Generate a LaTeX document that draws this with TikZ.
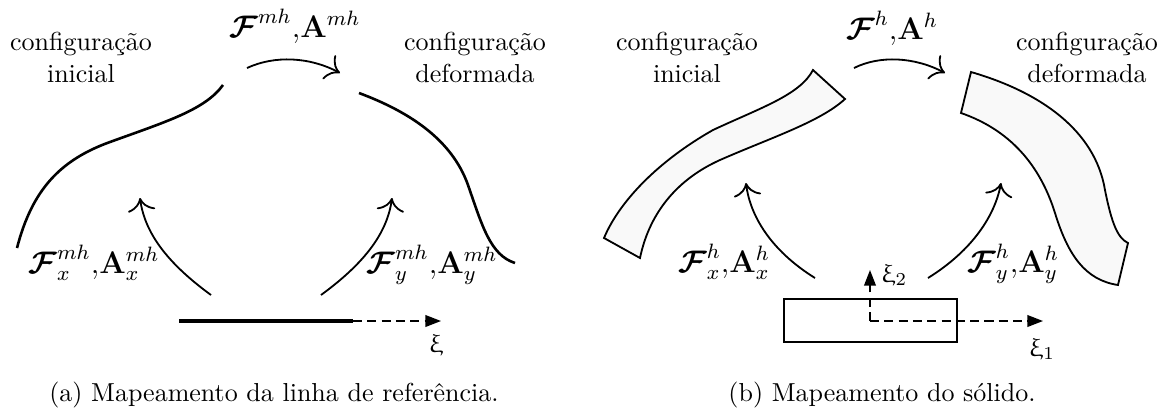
\documentclass[tikz,border=0pt]{standalone}
\usepackage{amsmath}
\usepackage{upgreek}
\usetikzlibrary{arrows.meta,positioning}
\newcommand{\mapF}{\boldsymbol{\mathcal{F}}}
\newcommand{\mapA}{\mathbf{A}}
\newcommand{\mapsep}{{\mathbf{,}}}

\begin{document}
\begin{tikzpicture}[
  x=0.3846pt, y=-0.3846pt,
  conf/.style={align=center, inner sep=0pt, anchor=north},
  maplabel/.style={inner sep=0pt, anchor=base, font=\fontsize{11.5}{13}\selectfont},
  refcurve/.style={line width=1pt},
  body/.style={draw, line width=0.7pt, fill=black!2.5},
  flow/.style={-{To[scale=1.6]}, line width=0.7pt},
  axisarrow/.style={-{Triangle[length=6pt,width=4.5pt]}, dash pattern=on 3.5pt off 2pt, line width=0.6pt},
  subcap/.style={anchor=base, inner sep=0pt}
]
\useasboundingbox (0,0) rectangle (1169,410);

% (a) linha de referencia
\node[conf] (iniA) at (81,32) {configuração\\inicial};
\node[conf] (defA) at (475,32) {configuração\\deformada};
\node[maplabel] (mapA) at (295,37) {$\mapF^{mh}\mapsep\mapA^{mh}$};
\node[maplabel] (mapAx) at (94,273) {$\mapF^{mh}_x\mapsep\mapA^{mh}_x$};
\node[maplabel] (mapAy) at (432,273) {$\mapF^{mh}_y\mapsep\mapA^{mh}_y$};
\node (xiA) at (436,345) {$\upxi$};
\node[subcap] (capA) at (274,401) {(a) Mapeamento da linha de referência.};

\coordinate (topA0) at (247,68);
\coordinate (topA1) at (340,73);
\coordinate (upAx0) at (211,295);
\coordinate (upAx1) at (140,198);
\coordinate (upAy0) at (321,295);
\coordinate (upAy1) at (392,198);
\coordinate (refA0) at (179,321);
\coordinate (refA1) at (353,321);
\coordinate (refA2) at (441,321);

\draw[refcurve] (17,248) .. controls (32,190) and (60,160) .. (110,142)
  .. controls (165,122) and (205,110) .. (223,85);
\draw[refcurve] (359,93) .. controls (410,112) and (452,140) .. (468,185)
  .. controls (482,225) and (490,255) .. (515,263);

\draw[flow] (topA0) .. controls (275,55) and (310,57) .. (topA1);
\draw[flow] (upAx0) .. controls (170,265) and (145,235) .. (upAx1);
\draw[flow] (upAy0) .. controls (362,265) and (387,235) .. (upAy1);
\draw[line width=1.2pt] (refA0) -- (refA1);
\draw[axisarrow] (refA1) -- (refA2);

% (b) solido
\node[conf] (iniB) at (687,32) {configuração\\inicial};
\node[conf] (defB) at (1087,32) {configuração\\deformada};
\node[maplabel] (mapB) at (892,39) {$\mapF^{h}\mapsep\mapA^{h}$};
\node[maplabel] (mapBx) at (724,272) {$\mapF^{h}_x\mapsep\mapA^{h}_x$};
\node[maplabel] (mapBy) at (1013,272) {$\mapF^{h}_y\mapsep\mapA^{h}_y$};
\node[anchor=west, inner sep=1pt] (xiB2) at (878,275) {$\upxi_2$};
\node (xiB1) at (1042,349) {$\upxi_1$};
\node[subcap] (capB) at (882,401) {(b) Mapeamento do sólido.};

\coordinate (topB0) at (854,68);
\coordinate (topB1) at (945,73);
\coordinate (upBx0) at (815,278);
\coordinate (upBx1) at (746,183);
\coordinate (upBy0) at (928,278);
\coordinate (upBy1) at (1001,183);
\coordinate (orgB) at (870,321);
\coordinate (tipB1) at (1043,321);
\coordinate (tipB2) at (870,270);

\draw[body] (604,238) .. controls (620,200) and (660,160) .. (713,130)
  .. controls (760,108) and (800,95) .. (813,70) -- (845,99)
  .. controls (820,122) and (770,138) .. (720,160)
  .. controls (680,178) and (650,210) .. (640,258) -- cycle;
\draw[body] (971,72) -- (961,113)
  .. controls (1010,130) and (1040,165) .. (1055,213)
  .. controls (1068,255) and (1085,280) .. (1118,285) -- (1128,243)
  .. controls (1118,238) and (1112,225) .. (1105,190)
  .. controls (1095,130) and (1040,92) .. cycle;
\draw[line width=0.8pt] (784,299) rectangle (957,342);

\draw[flow] (topB0) .. controls (880,55) and (915,57) .. (topB1);
\draw[flow] (upBx0) .. controls (770,250) and (750,215) .. (upBx1);
\draw[flow] (upBy0) .. controls (973,250) and (995,215) .. (upBy1);
\draw[axisarrow] (orgB) -- (tipB1);
\draw[axisarrow] (orgB) -- (tipB2);
\end{tikzpicture}
\end{document}
